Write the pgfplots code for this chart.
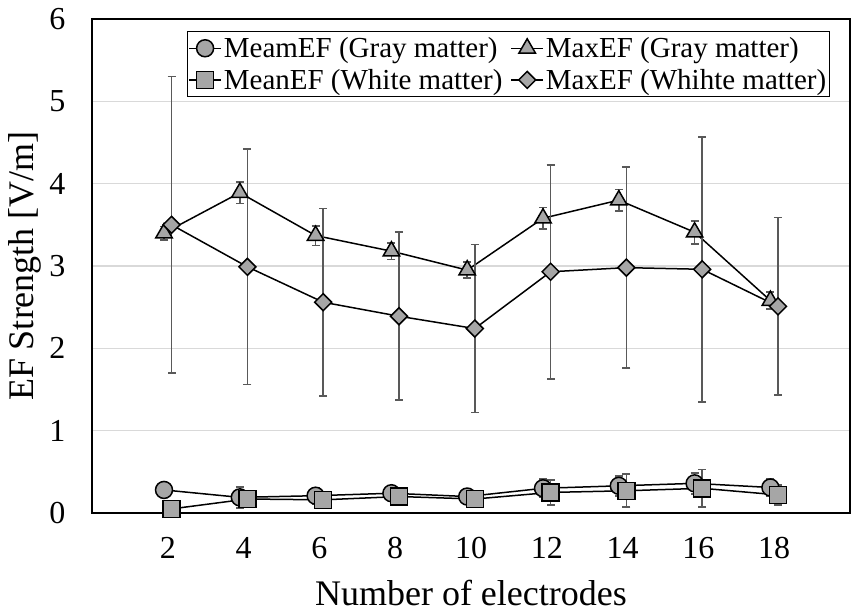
\documentclass[border=0pt]{standalone}
\usepackage{fontspec}
\setmainfont{Liberation Serif}
\usepackage{pgfplots}
\usepackage{pgfplotstable}
\pgfplotsset{compat=1.18}
\definecolor{mk}{RGB}{166,166,166}
\definecolor{eb}{RGB}{89,89,89}
\definecolor{gr}{RGB}{217,217,217}
\pgfplotstableread{
x y e
1.9 0.28 0.00
3.9 0.19 0.13
5.9 0.21 0.10
7.9 0.24 0.08
9.9 0.20 0.06
11.9 0.30 0.11
13.9 0.33 0.12
15.9 0.36 0.13
17.9 0.31 0.10
}\meangray
\pgfplotstableread{
x y e
1.9 3.40 0.08
3.9 3.89 0.13
5.9 3.37 0.12
7.9 3.18 0.10
9.9 2.95 0.10
11.9 3.58 0.13
13.9 3.80 0.13
15.9 3.41 0.14
17.9 2.58 0.10
}\maxgray
\pgfplotstableread{
x y e
2.1 0.05 0.00
4.1 0.17 0.05
6.1 0.16 0.05
8.1 0.20 0.05
10.1 0.17 0.05
12.1 0.25 0.15
14.1 0.27 0.20
16.1 0.30 0.23
18.1 0.22 0.12
}\meanwhite
\pgfplotstableread{
x y e
2.1 3.50 1.80
4.1 2.99 1.43
6.1 2.56 1.14
8.1 2.39 1.02
10.1 2.24 1.02
12.1 2.93 1.30
14.1 2.98 1.22
16.1 2.96 1.61
18.1 2.51 1.08
}\maxwhite
\begin{document}
\begin{tikzpicture}
\begin{axis}[
  at={(0,0)}, anchor=south west,
  scale only axis, width=758bp, height=494bp,
  xmin=0, xmax=20, ymin=0, ymax=6,
  xtick={2,4,...,18}, ytick={0,1,...,6},
  major tick length=0pt,
  ymajorgrids, grid style={gr, line width=1.2bp},
  axis line style={line width=1.5bp, black},
  tick label style={font=\fontsize{32bp}{36bp}\selectfont},
  /pgf/number format/assume math mode=true,
  xticklabel style={yshift=-21bp},
  yticklabel style={xshift=-23bp},
  xlabel={Number of electrodes}, ylabel={EF Strength [V/m]},
  every axis x label/.style={at={(axis description cs:0.5,0)}, yshift=-92bp, anchor=base, inner sep=0pt, font=\fontsize{36bp}{40bp}\selectfont},
  every axis y label/.style={at={(axis description cs:0,0.5)}, xshift=-67bp, rotate=90, anchor=center, font=\fontsize{36bp}{40bp}\selectfont},
  clip=false,
  legend columns=2, legend cell align=left,
  legend style={at={(0.125,0.976)}, anchor=north west, draw=black, line width=1.2bp,
    font=\fontsize{29bp}{33bp}\selectfont, inner sep=1bp,
    nodes={inner ysep=5bp},
    /tikz/every even column/.append style={column sep=6bp}},
  legend image code/.code={\draw[mark repeat=2, mark phase=2] plot coordinates {(0bp,0bp)(16bp,0bp)(32bp,0bp)};},
  every axis plot/.append style={black, line width=1.5bp},
  error bars/y dir=both, error bars/y explicit,
  error bars/error bar style={line width=1.7bp, color=eb},
  error bars/error mark options={line width=1.7bp, mark size=4bp, color=eb, rotate=90},
]
\addplot[mark=*, mark size=8.5bp, mark options={fill=mk, draw=black, line width=1.5bp}] table[x=x, y=y, y error=e] {\meangray};
\addlegendentry{MeamEF (Gray matter)}
\addplot[mark=triangle*, mark size=9.5bp, mark options={fill=mk, draw=black, line width=1.5bp}] table[x=x, y=y, y error=e] {\maxgray};
\addlegendentry{MaxEF (Gray matter)}
\addplot[mark=square*, mark size=8.5bp, mark options={fill=mk, draw=black, line width=1.5bp}] table[x=x, y=y, y error=e] {\meanwhite};
\addlegendentry{MeanEF (White matter)}
\addplot[mark=square*, mark size=6bp, mark options={fill=mk, draw=black, line width=1.5bp, rotate=45}] table[x=x, y=y, y error=e] {\maxwhite};
\addlegendentry{MaxEF (Whihte matter)}
\end{axis}
\pgfresetboundingbox
\path (-92bp,-102bp) rectangle (759bp,513bp);
\end{tikzpicture}
\end{document}
